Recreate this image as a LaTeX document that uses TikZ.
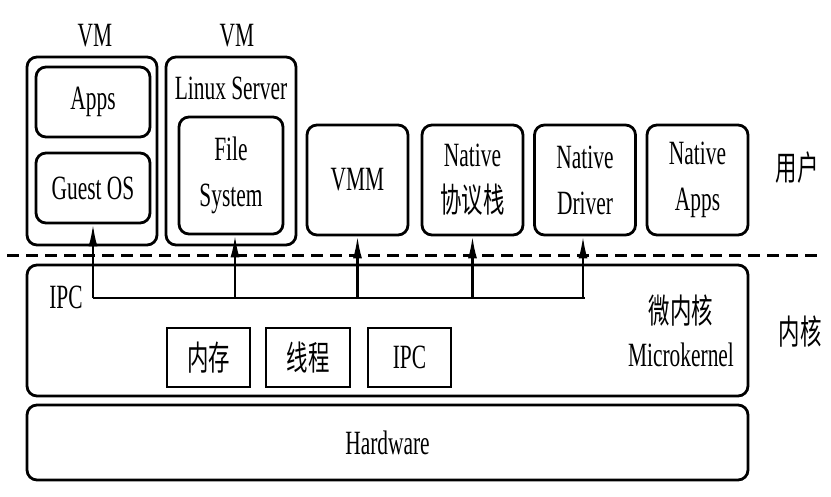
\documentclass[tikz,border=0pt]{standalone}
\usepackage{fontspec}
\setmainfont{Liberation Serif}[FakeStretch=0.63]
\newfontfamily\cjk{Noto Sans CJK SC}[FakeStretch=0.63]
\usetikzlibrary{arrows.meta}

\tikzset{
  every node/.style={font=\fontsize{34}{46}\selectfont, inner sep=0pt},
  box/.style={draw, line width=2.8pt, rounded corners=10pt, align=center},
  sqbox/.style={draw, line width=2.6pt},
  link/.style={line width=2.2pt},
  uparrow/.style={line width=2.2pt, -{Latex[length=22pt,width=9pt]}},
}

\begin{document}
\begin{tikzpicture}[x=1pt,y=-1pt]
        \useasboundingbox (0,0) rectangle (831,496);
        % user space
        \node[box, minimum width=130pt, minimum height=188pt] (vma) at (92,151) {};
        \node[box, minimum width=114pt, minimum height=70pt] (apps) at (93,102) {Apps};
        \node[box, minimum width=114pt, minimum height=70pt] (guest) at (93,188) {Guest OS};
        \node (vmalbl) at (95,36) {VM};
        \node[box, minimum width=130pt, minimum height=188pt] (vmb) at (231,151) {};
        \node (linux) at (231,88) {Linux Server};
        \node[box, minimum width=104pt, minimum height=117pt] (fs) at (231,175.5) {File\\System};
        \node (vmblbl) at (237,36) {VM};
        \node[box, minimum width=101pt, minimum height=110pt] (vmm) at (357.5,180) {VMM};
        \node[box, minimum width=101pt, minimum height=110pt] (nstack) at (472.5,180) {Native\\{\cjk 协议栈}};
        \node[box, minimum width=101pt, minimum height=110pt] (ndrv) at (585,180) {Native\\Driver};
        \node[box, minimum width=101pt, minimum height=110pt] (napps) at (697.5,180) {Native\\Apps};
        \node (user) at (797,168) {\cjk 用户};
        % boundary
        \coordinate (sepl) at (7,255);
        \coordinate (sepr) at (817,255);
        \draw[line width=3pt, dash pattern=on 12pt off 7pt] (sepl) -- (sepr);
        % kernel space
        \node[box, minimum width=721pt, minimum height=131pt] (kern) at (387.5,330.5) {};
        \node (ipclbl) at (66,297) {IPC};
        \node[sqbox, minimum width=83pt, minimum height=59pt] (mem) at (208.5,357.5) {\cjk 内存};
        \node[sqbox, minimum width=84pt, minimum height=59pt] (thr) at (308,357.5) {\cjk 线程};
        \node[sqbox, minimum width=83pt, minimum height=59pt] (ipcb) at (409.5,357.5) {IPC};
        \node (wnh) at (681,311) {\cjk 微内核};
        \node (mk) at (681,355) {Microkernel};
        \node (kernlbl) at (800,332) {\cjk 内核};
        \node[box, minimum width=721pt, minimum height=75pt] (hw) at (387.5,442.5) {Hardware};
        % IPC paths
        \coordinate (ipc) at (0,298);
        \draw[link] (guest.south |- ipc) -- (ndrv.south |- ipc);
        \draw[uparrow] (guest.south |- ipc) -- (guest.south);
        \draw[uparrow] ([xshift=4pt]fs.south |- ipc) -- ([xshift=4pt]fs.south);
        \draw[uparrow] (vmm.south |- ipc) -- (vmm.south);
        \draw[uparrow] (nstack.south |- ipc) -- (nstack.south);
        \draw[uparrow] ([xshift=-2pt]ndrv.south |- ipc) -- ([xshift=-2pt]ndrv.south);
      \end{tikzpicture}
\end{document}
